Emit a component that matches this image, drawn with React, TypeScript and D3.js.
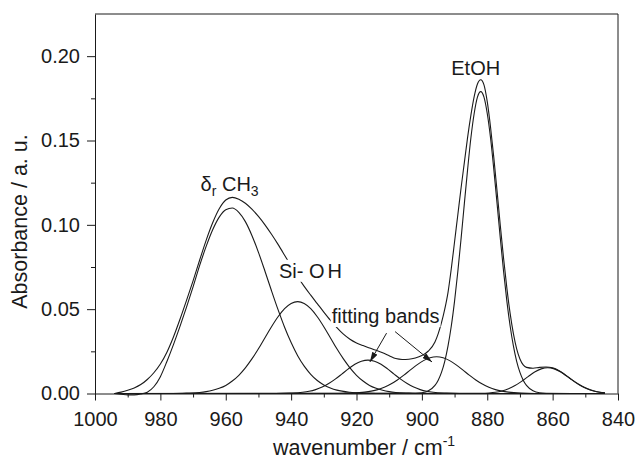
import React, { useEffect, useRef } from 'react';
import * as d3 from 'd3';

type Pt = [number, number];

// axis ticks
const xTicks = [1000, 980, 960, 940, 920, 900, 880, 860, 840];
const xMinorTicks = [990, 970, 950, 930, 910, 890, 870, 850];
const yTicks = [0, 0.05, 0.1, 0.15, 0.2];
const yMinorTicks = [0.025, 0.075, 0.125, 0.175];

// measured spectrum [wavenumber, absorbance]
const spectrum: Pt[] = [
  [994, 0], [992, 0.0008], [990, 0.0019], [988, 0.0033], [986, 0.0053], [984, 0.0083],
  [982, 0.0123], [980, 0.0175], [978, 0.0245], [976, 0.0335], [974, 0.044], [972, 0.0552],
  [970, 0.0668], [968, 0.079], [966, 0.0908], [964, 0.1012], [962, 0.1095], [960, 0.1147],
  [958, 0.1163], [956, 0.1152], [954, 0.1128], [952, 0.1093], [950, 0.105], [948, 0.1],
  [946, 0.0944], [944, 0.0884], [942, 0.082], [940, 0.0755], [938, 0.0692], [936, 0.0635],
  [934, 0.0583], [932, 0.0533], [930, 0.0483], [928, 0.0435], [926, 0.0391], [924, 0.0352],
  [922, 0.0322], [920, 0.03], [918, 0.0284], [916, 0.027], [914, 0.0256], [912, 0.0241],
  [910, 0.0224], [908, 0.0207], [906, 0.0202], [904, 0.0203], [902, 0.021], [900, 0.0225],
  [898, 0.0252], [896, 0.0305], [895, 0.0355], [894, 0.042], [893, 0.05], [892, 0.06],
  [891, 0.074], [890, 0.09], [889, 0.106], [888, 0.122], [887, 0.137], [886, 0.152],
  [885, 0.165], [884, 0.176], [883, 0.1835], [882, 0.186], [881, 0.183], [880, 0.173],
  [879, 0.158], [878, 0.14], [877, 0.12], [876, 0.0995], [875, 0.08], [874, 0.0625],
  [873, 0.0475], [872, 0.0355], [871, 0.0265], [870, 0.0205], [869, 0.017], [868, 0.0155],
  [866, 0.015], [864, 0.0155], [862, 0.0157], [860, 0.0152], [858, 0.0135], [856, 0.0109],
  [854, 0.0081], [852, 0.0055], [850, 0.0034], [848, 0.0019], [846, 0.0009], [844, 0.0004],
];

// fitted bands
const bandCH3: Pt[] = [
  [994, 0], [992, -0.0004], [990, -0.0008], [988, -0.0008], [986, -0.0003], [984, 0.0008],
  [982, 0.004], [980, 0.01], [978, 0.019], [976, 0.029], [974, 0.0398], [972, 0.0512],
  [970, 0.0632], [968, 0.0758], [966, 0.0872], [964, 0.0971], [962, 0.1046], [960, 0.109],
  [958, 0.11], [956, 0.1074], [954, 0.1019], [952, 0.0937], [950, 0.0837], [948, 0.0725],
  [946, 0.0609], [944, 0.0497], [942, 0.0393], [940, 0.0302], [938, 0.0224], [936, 0.0162],
  [934, 0.0114], [932, 0.0077], [930, 0.0051], [928, 0.0033], [926, 0.002], [922, 0.0007],
  [918, 0.0002], [914, 0], [844, 0],
];

const bandSiOH: Pt[] = [
  [994, 0], [976, 0], [972, 0.0002], [968, 0.0006], [966, 0.0011], [964, 0.0019],
  [962, 0.0031], [960, 0.0048], [958, 0.0074], [956, 0.0108], [954, 0.0152], [952, 0.0205],
  [950, 0.0265], [948, 0.0331], [946, 0.0396], [944, 0.0455], [942, 0.0503], [940, 0.0534],
  [938, 0.0545], [936, 0.0534], [934, 0.0503], [932, 0.0455], [930, 0.0396], [928, 0.0331],
  [926, 0.0265], [924, 0.0205], [922, 0.0152], [920, 0.0108], [918, 0.0074], [916, 0.0048],
  [914, 0.0031], [912, 0.0019], [910, 0.0011], [908, 0.0006], [904, 0.0002], [900, 0], [844, 0],
];

const bandFit1: Pt[] = [
  [994, 0], [944.5, 0], [940.5, 0.0002], [936.5, 0.0007], [934.5, 0.0013], [932.5, 0.0023],
  [930.5, 0.0038], [928.5, 0.0059], [926.5, 0.0085], [924.5, 0.0115], [922.5, 0.0146],
  [920.5, 0.0173], [918.5, 0.0191], [916.5, 0.0198], [914.5, 0.0191], [912.5, 0.0173],
  [910.5, 0.0146], [908.5, 0.0115], [906.5, 0.0085], [904.5, 0.0059], [902.5, 0.0038],
  [900.5, 0.0023], [898.5, 0.0013], [896.5, 0.0007], [892.5, 0.0002], [888.5, 0], [844, 0],
];

const bandFit2: Pt[] = [
  [994, 0], [925.5, 0], [921.5, 0.0002], [917.5, 0.0008], [915.5, 0.0014], [913.5, 0.0023],
  [911.5, 0.0037], [909.5, 0.0056], [907.5, 0.008], [905.5, 0.0109], [903.5, 0.014],
  [901.5, 0.017], [899.5, 0.0195], [897.5, 0.0212], [895.5, 0.0218], [893.5, 0.0212],
  [891.5, 0.0195], [889.5, 0.017], [887.5, 0.014], [885.5, 0.0109], [883.5, 0.008],
  [881.5, 0.0056], [879.5, 0.0037], [877.5, 0.0023], [875.5, 0.0014], [873.5, 0.0008],
  [869.5, 0.0002], [865.5, 0], [844, 0],
];

const bandEtOH: Pt[] = [
  [994, 0], [902, 0.0001], [900, 0.0004], [898, 0.0016], [896, 0.0048], [895, 0.0079],
  [894, 0.0125], [893, 0.0191], [892, 0.0282], [891, 0.04], [890, 0.0548], [889, 0.0723],
  [888, 0.092], [887, 0.1127], [886, 0.133], [885, 0.1516], [884, 0.166], [883, 0.1757],
  [882, 0.179], [881, 0.1757], [880, 0.166], [879, 0.1516], [878, 0.133], [877, 0.1127],
  [876, 0.092], [875, 0.0723], [874, 0.0548], [873, 0.04], [872, 0.0282], [871, 0.0191],
  [870, 0.0125], [869, 0.0079], [868, 0.0048], [866, 0.0016], [864, 0.0004], [862, 0.0001],
  [844, 0],
];

const band861: Pt[] = [
  [994, 0], [881.5, 0.0001], [879.5, 0.0003], [877.5, 0.0007], [875.5, 0.0015],
  [873.5, 0.0028], [871.5, 0.0047], [869.5, 0.0072], [867.5, 0.01], [865.5, 0.0127],
  [863.5, 0.0146], [861.5, 0.0153], [859.5, 0.0146], [857.5, 0.0127], [855.5, 0.01],
  [853.5, 0.0072], [851.5, 0.0047], [849.5, 0.0028], [847.5, 0.0015], [845.5, 0.0007],
  [844, 0.0004],
];

const curves = [bandCH3, bandSiOH, bandFit1, bandFit2, bandEtOH, band861, spectrum];

const FONT = "'Liberation Sans', Arial, Helvetica, sans-serif";
const INK = '#1a1a1a';

export default function App() {
  const svgRef = useRef<SVGSVGElement>(null);

  const W = 637,
    H = 462;
  const margin = { top: 14, right: 19, bottom: 68.5, left: 95 };

  useEffect(() => {
    const svg = d3.select(svgRef.current);
    svg.selectAll('*').remove();

    const x = d3.scaleLinear().domain([1000, 840]).range([margin.left, W - margin.right]);
    const y = d3.scaleLinear().domain([0, 0.225]).range([H - margin.bottom, margin.top]);

    // arrow head
    svg
      .append('defs')
      .append('marker')
      .attr('id', 'arrow')
      .attr('markerUnits', 'userSpaceOnUse')
      .attr('markerWidth', 10)
      .attr('markerHeight', 6)
      .attr('refX', 10)
      .attr('refY', 3)
      .attr('orient', 'auto')
      .append('path')
      .attr('d', 'M0,0 L10,3 L0,6 Z')
      .attr('fill', INK);

    // curves
    const line = d3
      .line<Pt>()
      .x((d) => x(d[0]))
      .y((d) => y(d[1]))
      .curve(d3.curveMonotoneX);

    svg
      .append('g')
      .selectAll('path')
      .data(curves)
      .enter()
      .append('path')
      .attr('d', (d) => line(d))
      .attr('fill', 'none')
      .attr('stroke', INK)
      .attr('stroke-width', 1.1);

    // axes
    const styleAxis = (g) => {
      g.attr('font-family', FONT).attr('font-size', 20);
      g.selectAll('line').attr('stroke', INK);
      g.selectAll('path').attr('stroke', INK);
      g.selectAll('text').attr('fill', INK);
    };

    svg
      .append('g')
      .attr('transform', `translate(0,${H - margin.bottom})`)
      .call(d3.axisBottom(x).tickValues(xTicks).tickSize(7).tickSizeOuter(0).tickPadding(11).tickFormat(d3.format('d')))
      .call(styleAxis);
    svg
      .append('g')
      .attr('transform', `translate(0,${H - margin.bottom})`)
      .call(d3.axisBottom(x).tickValues(xMinorTicks).tickSize(4).tickFormat(() => ''))
      .call((g) => g.select('.domain').remove())
      .call(styleAxis);

    svg
      .append('g')
      .attr('transform', `translate(${margin.left},0)`)
      .call(d3.axisLeft(y).tickValues(yTicks).tickSize(8).tickSizeOuter(0).tickPadding(7).tickFormat(d3.format('.2f')))
      .call(styleAxis);
    svg
      .append('g')
      .attr('transform', `translate(${margin.left},0)`)
      .call(d3.axisLeft(y).tickValues(yMinorTicks).tickSize(4).tickFormat(() => ''))
      .call((g) => g.select('.domain').remove())
      .call(styleAxis);

    // frame top / right
    svg
      .append('path')
      .attr('d', `M${margin.left},${margin.top}H${W - margin.right}V${H - margin.bottom}`)
      .attr('fill', 'none')
      .attr('stroke', INK);

    // axis titles
    const xt = svg
      .append('text')
      .attr('x', 273)
      .attr('y', 455)
      .attr('font-family', FONT)
      .attr('font-size', 21.5)
      .attr('fill', INK);
    xt.append('tspan').text('wavenumber / cm');
    xt.append('tspan').attr('dy', -9).attr('font-size', 14).text('-1');

    svg
      .append('text')
      .attr('transform', 'translate(27,221.5) rotate(-90)')
      .attr('text-anchor', 'middle')
      .attr('font-family', FONT)
      .attr('font-size', 21.5)
      .attr('fill', INK)
      .text('Absorbance / a. u.');

    // annotations (some sit on a white box that hides the spectrum behind them)
    const label = (w: number, a: number, withBg: boolean, build: (t) => void) => {
      const g = svg.append('g');
      const bg = g.append('rect').attr('fill', 'white');
      const t = g
        .append('text')
        .attr('x', x(w))
        .attr('y', y(a))
        .attr('font-family', FONT)
        .attr('font-size', 20)
        .attr('fill', INK);
      build(t);
      if (withBg) {
        const b = (t.node() as SVGTextElement).getBBox();
        bg.attr('x', b.x - 1).attr('y', b.y).attr('width', b.width + 2).attr('height', b.height);
      } else {
        bg.remove();
      }
    };

    label(967.7, 0.12, false, (t) => {
      t.append('tspan').text('δ');
      t.append('tspan').attr('dy', 5).attr('font-size', 14).text('r');
      t.append('tspan').attr('dy', -5).text(' CH');
      t.append('tspan').attr('dy', 5).attr('font-size', 14).text('3');
    });
    label(943.7, 0.0686, true, (t) => {
      t.append('tspan').text('Si- O');
      t.append('tspan').attr('dx', 3).text('H');
    });
    label(927.6, 0.0418, true, (t) => t.text('fitting bands'));
    label(891, 0.1887, false, (t) => t.text('EtOH'));

    const arrows: [Pt, Pt][] = [
      [[910.8, 0.0358], [915.9, 0.0187]],
      [[908.2, 0.0367], [896.9, 0.0187]],
    ];
    svg
      .append('g')
      .selectAll('line')
      .data(arrows)
      .enter()
      .append('line')
      .attr('x1', (d) => x(d[0][0]))
      .attr('y1', (d) => y(d[0][1]))
      .attr('x2', (d) => x(d[1][0]))
      .attr('y2', (d) => y(d[1][1]))
      .attr('stroke', INK)
      .attr('stroke-width', 1)
      .attr('marker-end', 'url(#arrow)');
  }, []);

  return (
    <svg
      ref={svgRef}
      width={W}
      height={H}
      style={{ position: 'absolute', left: 0, top: 0, background: 'white' }}
    />
  );
}
